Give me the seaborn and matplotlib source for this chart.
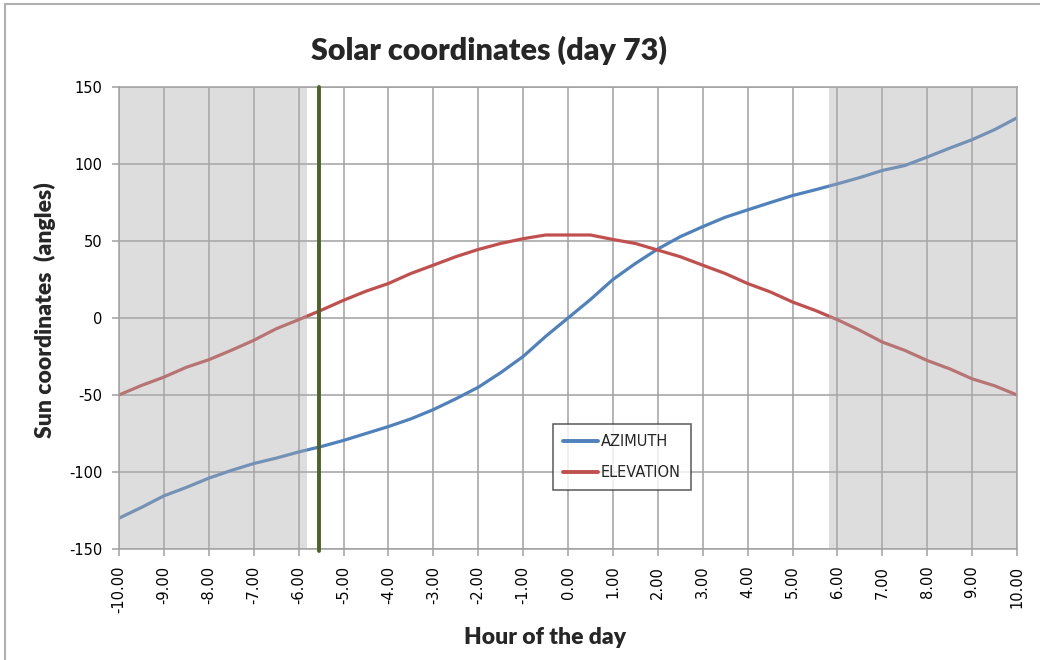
import pandas as pd
import matplotlib.pyplot as plt
import seaborn as sns
from matplotlib.lines import Line2D

# dados (passo de meia hora)
horas = [-10.0, -9.5, -9.0, -8.5, -8.0, -7.5, -7.0, -6.5, -6.0, -5.5, -5.0,
         -4.5, -4.0, -3.5, -3.0, -2.5, -2.0, -1.5, -1.0, -0.5, 0.0,
         0.5, 1.0, 1.5, 2.0, 2.5, 3.0, 3.5, 4.0, 4.5, 5.0,
         5.5, 6.0, 6.5, 7.0, 7.5, 8.0, 8.5, 9.0, 9.5, 10.0]
azimute = [-130, -123, -115.5, -110, -104, -99, -94.5, -91, -87, -83.5, -79.5,
           -75, -70.5, -65.5, -59.5, -52.5, -45, -35.5, -25, -12, 0,
           12, 25, 35.4, 44.8, 52.8, 59.3, 65.4, 70.2, 74.9, 79.5,
           83.2, 87.1, 91.2, 95.8, 99, 104.5, 110.3, 115.8, 122.3, 130]
elevacao = [-50, -43.8, -38.4, -32, -27.1, -21, -14.5, -7, -1.1, 5, 11.5,
            17.4, 22.4, 28.9, 34.3, 39.8, 44.5, 48.4, 51.5, 53.9, 53.9,
            53.9, 51, 48.4, 44.1, 39.8, 34.3, 28.9, 22.4, 17, 10.4,
            5, -1.1, -8, -15.6, -21, -27.6, -33, -39.5, -44, -50]
nascer_sol = -5.81
por_sol = 5.81
hora_marcada = -5.54
rotulos_x = ['%.2f' % h for h in range(-10, 11)]
ticks_y = [-150, -100, -50, 0, 50, 100, 150]

dados = pd.DataFrame({
    'Hora': horas * 2,
    'Valor': azimute + elevacao,
    'Serie': ['AZIMUTH'] * len(horas) + ['ELEVATION'] * len(horas),
})

sns.set_style('white')
plt.rcParams['font.family'] = ['DejaVu Sans']

fig = plt.figure(figsize=(10.4, 6.6), dpi=100)
ax = fig.add_axes([119 / 1040, 111 / 660, 898 / 1040, 462 / 660])

cores = {'AZIMUTH': '#4f81bd', 'ELEVATION': '#c0504d'}
sns.lineplot(data=dados, x='Hora', y='Valor', hue='Serie', palette=cores,
             linewidth=2.3, ax=ax, legend=False, zorder=2)

# noite (sombreado por cima das linhas, como no Excel)
ax.axvspan(-10, nascer_sol, color='#acacac', alpha=0.4, lw=0, zorder=3)
ax.axvspan(por_sol, 10, color='#acacac', alpha=0.4, lw=0, zorder=3)
ax.axvline(hora_marcada, ymin=-0.005, ymax=1, color='#4f6228', lw=2.8,
           zorder=4, clip_on=False)

ax.set_xlim(-10, 10)
ax.set_ylim(-150, 150)
ax.set_xticks(range(-10, 11))
ax.set_xticklabels(rotulos_x, rotation=90, fontsize=10.5)
ax.set_yticks(ticks_y)
ax.set_yticklabels([str(v) for v in ticks_y], fontsize=10.5)
ax.grid(True, color='#a0a0a0', lw=1.1)
ax.set_axisbelow(True)
for lado in ax.spines.values():
    lado.set_color('#a0a0a0')
    lado.set_linewidth(1.1)
ax.tick_params(axis='both', length=5, width=1.1, color='#a0a0a0',
               direction='out', left=True, bottom=True, pad=7,
               labelcolor='black')
ax.set_xlabel('')
ax.set_ylabel('')

handles = [Line2D([], [], color=cores[s], lw=2.8) for s in ['AZIMUTH', 'ELEVATION']]
leg = ax.legend(handles, ['AZIMUTH', 'ELEVATION'], loc='lower left',
                bbox_to_anchor=(0.483, 0.128), frameon=True, fancybox=False,
                fontsize=10.5, handlelength=2.4, handletextpad=0.2,
                labelspacing=1.05, borderpad=0.7, borderaxespad=0)
leg.get_frame().set_edgecolor('#303030')
leg.get_frame().set_linewidth(1.1)
leg.set_zorder(6)

fig.text(489 / 1040, 1 - 50 / 660, 'Solar coordinates (day 73)', ha='center',
         va='center', fontsize=22, fontweight='heavy', family='Lato')
fig.text(545 / 1040, 1 - 638 / 660, 'Hour of the day', ha='center',
         va='center', fontsize=16.5, fontweight='heavy', family='Lato')
fig.text(45 / 1040, 1 - 310 / 660, 'Sun coordinates  (angles)', ha='center',
         va='center', rotation=90, fontsize=16.5, fontweight='heavy', family='Lato')

# moldura do gráfico (só esquerda e topo visíveis no recorte)
fig.add_artist(Line2D([5 / 1040, 5 / 1040], [0, 1 - 4 / 660], color='#b0b0b0',
                      lw=1.5, transform=fig.transFigure))
fig.add_artist(Line2D([5 / 1040, 1], [1 - 4 / 660, 1 - 4 / 660], color='#b0b0b0',
                      lw=1.5, transform=fig.transFigure))

fig.savefig('out.png', dpi=100)
